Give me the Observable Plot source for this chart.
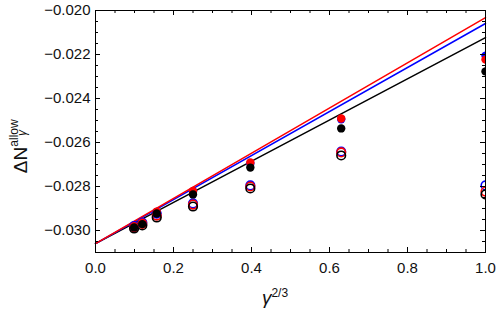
<!DOCTYPE html>
<html><head><meta charset="utf-8">
<script src="https://cdn.jsdelivr.net/npm/d3@7"></script>
<script src="https://cdn.jsdelivr.net/npm/@observablehq/plot@0.6"></script>
<style>body{margin:0;background:#fff;} svg{display:block;}</style>
</head><body><div id="chart"></div>
<script>
// γ^{2/3} positions of the data points
const xVals = [0.099, 0.12, 0.157, 0.25, 0.397, 0.63, 1.0];
// filled points
const filledBlack = [-0.02986, -0.02971, -0.02923, -0.02836, -0.02714, -0.02536, -0.02277];
const filledRed   = [-0.02982, -0.02964, -0.02914, -0.02820, -0.02691, -0.02491, -0.02223];
const filledBlue  = [-0.02984, -0.02966, -0.02916, -0.02823, -0.02695, -0.02494, -0.02205];
// open points
const openBlack = [-0.02991, -0.02977, -0.02941, -0.02891, -0.02809, -0.02659, -0.02836];
const openRed   = [-0.02986, -0.02970, -0.02932, -0.02882, -0.02800, -0.02645, -0.02823];
const openBlue  = [-0.02980, -0.02964, -0.02923, -0.02877, -0.02795, -0.02641, -0.02795];
// straight lines (endpoints at x = 0 and x = 1)
const lineX = [0, 1];
const lineBlack = [-0.03060, -0.02123];
const lineBlue  = [-0.03060, -0.02059];
const lineRed   = [-0.03060, -0.02032];
// ticks
const xMajor = [0, 0.2, 0.4, 0.6, 0.8, 1.0];
const xMinor = [0.05, 0.1, 0.15, 0.25, 0.3, 0.35, 0.45, 0.5, 0.55, 0.65, 0.7, 0.75, 0.85, 0.9, 0.95];
const yMajor = [-0.030, -0.028, -0.026, -0.024, -0.022, -0.020];
const yMinor = [-0.0310, -0.0305, -0.0295, -0.0290, -0.0285, -0.0275, -0.0270, -0.0265, -0.0255, -0.0250, -0.0245, -0.0235, -0.0230, -0.0225, -0.0215, -0.0210, -0.0205];

const pts = (ys) => xVals.map((x, i) => ({x, y: ys[i]}));
const ln = (ys) => lineX.map((x, i) => ({x, y: ys[i]}));

const W = 496, H = 309, mL = 95, mR = 11, mT = 10, mB = 57;
const pw = W - mL - mR, ph = H - mT - mB;
const majL = 5, minL = 3;

const plot = Plot.plot({
  width: W, height: H,
  marginLeft: mL, marginRight: mR, marginTop: mT, marginBottom: mB,
  x: {domain: [0, 1]},
  y: {domain: [-0.0310, -0.0200]},
  style: {fontFamily: "'Liberation Sans', Arial, sans-serif", fontSize: "15px", color: "#111", background: "#fff"},
  marks: [
    Plot.line(ln(lineBlack), {x: "x", y: "y", stroke: "black", strokeWidth: 1.5}),
    Plot.line(ln(lineBlue), {x: "x", y: "y", stroke: "#0000ff", strokeWidth: 1.5}),
    Plot.line(ln(lineRed), {x: "x", y: "y", stroke: "#ff0000", strokeWidth: 1.5}),
    Plot.dot(pts(openBlue), {x: "x", y: "y", r: 4.3, stroke: "#0000ff", strokeWidth: 1.6, fill: "none", clip: true}),
    Plot.dot(pts(openRed), {x: "x", y: "y", r: 4.3, stroke: "#ff0000", strokeWidth: 1.6, fill: "none", clip: true}),
    Plot.dot(pts(openBlack), {x: "x", y: "y", r: 4.3, stroke: "black", strokeWidth: 1.6, fill: "none", clip: true}),
    Plot.dot(pts(filledBlue), {x: "x", y: "y", r: 4.2, fill: "#0000ff", clip: true}),
    Plot.dot(pts(filledRed), {x: "x", y: "y", r: 4.2, fill: "#ff0000", clip: true}),
    Plot.dot(pts(filledBlack), {x: "x", y: "y", r: 4.2, fill: "black", clip: true}),
    // inward ticks on all four sides
    Plot.tickX(xMajor, {x: d => d, insetTop: ph - majL, stroke: "black"}),
    Plot.tickX(xMinor, {x: d => d, insetTop: ph - minL, stroke: "black"}),
    Plot.tickX(xMajor, {x: d => d, insetBottom: ph - majL, stroke: "black"}),
    Plot.tickX(xMinor, {x: d => d, insetBottom: ph - minL, stroke: "black"}),
    Plot.tickY(yMajor, {y: d => d, insetRight: pw - majL, stroke: "black"}),
    Plot.tickY(yMinor, {y: d => d, insetRight: pw - minL, stroke: "black"}),
    Plot.tickY(yMajor, {y: d => d, insetLeft: pw - majL, stroke: "black"}),
    Plot.tickY(yMinor, {y: d => d, insetLeft: pw - minL, stroke: "black"}),
    Plot.frame({stroke: "black", strokeWidth: 1}),
    Plot.axisX(xMajor, {tickSize: 0, tickPadding: 10, tickFormat: d3.format(".1f"), label: null}),
    Plot.axisY(yMajor, {tickSize: 0, tickPadding: 5, tickFormat: d3.format(".3f"), label: null})
  ]
});

const svg = d3.select(plot);
// x label: γ^{2/3}
const xl = svg.append("text")
  .attr("x", 275).attr("y", 304)
  .attr("font-family", "'Liberation Sans', Arial, sans-serif")
  .attr("fill", "#111");
xl.append("tspan").attr("font-size", 19).attr("font-style", "italic").text("γ");
xl.append("tspan").attr("font-size", 12).attr("dy", -7).text("2/3");

// y label: ΔN_γ^allow (rotated)
const g = svg.append("g").attr("transform", "translate(27,160) rotate(-90)")
  .attr("font-family", "'Liberation Sans', Arial, sans-serif").attr("fill", "#111");
g.append("text").attr("x", 0).attr("y", 0).attr("font-size", 19).text("ΔN");
g.append("text").attr("x", 27).attr("y", -9).attr("font-size", 12).text("allow");
g.append("text").attr("x", 27).attr("y", -1).attr("font-size", 12).attr("font-style", "italic").text("γ");

document.getElementById("chart").appendChild(plot);
</script>
</body></html>
